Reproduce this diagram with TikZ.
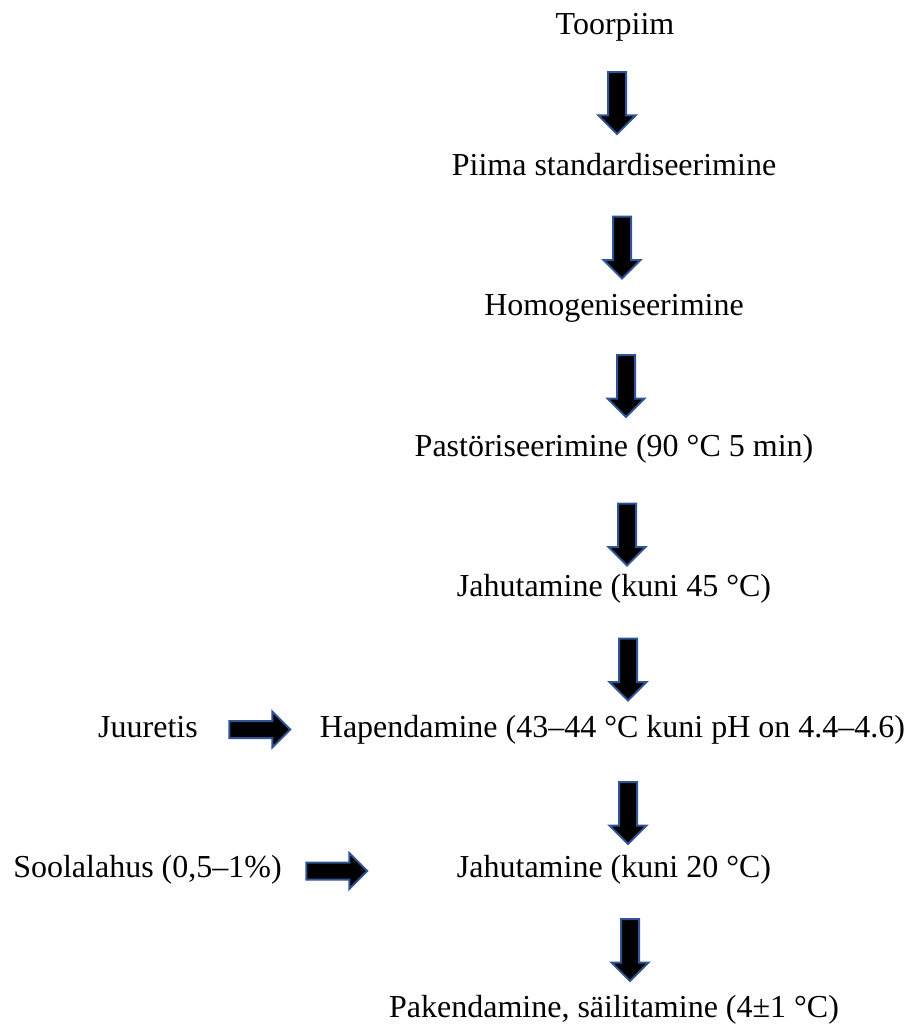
\documentclass[tikz,border=0pt]{standalone}
\usepackage{fontspec}
\setmainfont{Liberation Serif}
\usetikzlibrary{shapes.arrows}
\definecolor{arrowblue}{HTML}{2F5597}

\begin{document}
\begin{tikzpicture}[x=1pt,y=-1pt,
              every node/.style={inner sep=0pt,anchor=base,
              font=\fontsize{32}{38}\selectfont},
              blockarrow/.style={single arrow,draw=arrowblue,fill=black,
              line width=2pt,anchor=center,single arrow tip angle=90,
              inner xsep=0pt},
              blockdown/.style={blockarrow,rotate=-90,minimum height=62pt,
              inner ysep=8pt,single arrow head extend=9.5pt},
              blockright/.style={blockarrow,minimum height=61pt,
              inner ysep=7.5pt,single arrow head extend=9.5pt}]
    \useasboundingbox (0,0) rectangle (917,1025);

    \node (toor) at (615,34.5) {Toorpiim};
    \node (stand) at (614,175) {Piima standardiseerimine};
    \node (homo) at (614,315.5) {Homogeniseerimine};
    \node (past) at (614,456) {Pastöriseerimine (90 °C 5 min)};
    \node (jah1) at (614,596.5) {Jahutamine (kuni 45 °C)};
    \node (hap) at (612.5,737) {Hapendamine (43–44 °C kuni pH on 4.4–4.6)};
    \node (jah2) at (614,877.5) {Jahutamine (kuni 20 °C)};
    \node (pak) at (614,1017.5) {Pakendamine, säilitamine (4±1 °C)};

    \node (juur) at (148,737) {Juuretis};
    \node (sool) at (147.5,877.5) {Soolalahus (0,5–1\%)};

    \node[blockdown] (d1) at (617,98.5) {};
    \node[blockdown] (d2) at (622,243) {};
    \node[blockdown] (d3) at (626,381.5) {};
    \node[blockdown] (d4) at (627,530) {};
    \node[blockdown] (d5) at (628,665) {};
    \node[blockdown] (d6) at (628,808.5) {};
    \node[blockdown] (d7) at (630,945.5) {};

    \node[blockright] (r1) at (255.5,729.5) {};
    \node[blockright] (r2) at (332.5,871) {};
\end{tikzpicture}
\end{document}
